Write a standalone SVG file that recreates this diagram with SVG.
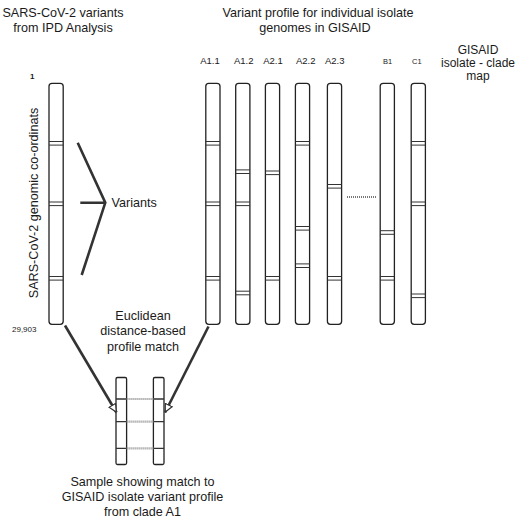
<svg xmlns="http://www.w3.org/2000/svg" width="520" height="519" viewBox="0 0 520 519">
<defs>
<style>
text{font-family:"Liberation Sans",Arial,sans-serif;fill:#1a1a1a;}
.t{font-size:12.6px;}
.g{font-size:12px;}
.m{text-anchor:middle;}
.cl{font-size:9.5px;text-anchor:middle;}
.cs{font-size:7.5px;text-anchor:middle;}
.bar{fill:#fff;stroke:#222;stroke-width:1.3;}
.band{stroke:#333;stroke-width:1;fill:none;}
.conn{stroke:#333;stroke-width:2.6;fill:none;}
.dot{stroke:#8a8a8a;stroke-width:2.2;stroke-dasharray:1 1;fill:none;}
</style>
<marker id="hollow" viewBox="0 0 10 10" refX="10" refY="5" markerWidth="9" markerHeight="9" markerUnits="userSpaceOnUse" orient="auto">
<path d="M0.8,0.8 L9.4,5 L0.8,9.2 z" fill="#fff" stroke="#333" stroke-width="1.3"/>
</marker>
</defs>
<rect width="520" height="519" fill="#fff"/>

<g id="titles">
<text class="t m" x="63" y="16.5">SARS-CoV-2 variants</text>
<text class="t m" x="63" y="31.5">from IPD Analysis</text>
<text class="t m" x="318" y="16.5">Variant profile for individual isolate</text>
<text class="t m" x="315" y="31.5">genomes in GISAID</text>
<text class="g m" x="478" y="54">GISAID</text>
<text class="g m" x="478" y="66.8">isolate - clade</text>
<text class="g m" x="478" y="80">map</text>
<text style="font-size:8px;font-weight:bold" x="30" y="79">1</text>
<text style="font-size:8px" x="12" y="332">29,903</text>
<text class="t m" transform="translate(37.7,203) rotate(-90)" x="0" y="0">SARS-CoV-2 genomic co-ordinats</text>
<text class="t" x="111.5" y="206.5">Variants</text>
<text class="t m" x="143" y="319.5">Euclidean</text>
<text class="t m" x="143" y="335">distance-based</text>
<text class="t m" x="143" y="350.5">profile match</text>
<text class="t m" x="142.5" y="485.5">Sample showing match to</text>
<text class="t m" x="142.5" y="500.5">GISAID isolate variant profile</text>
<text class="t m" x="142.5" y="515.5">from clade A1</text>
</g>

<g id="clade-labels">
<text class="cl" x="210" y="64">A1.1</text>
<text class="cl" x="243.7" y="64">A1.2</text>
<text class="cl" x="273" y="64">A2.1</text>
<text class="cl" x="305.7" y="64">A2.2</text>
<text class="cl" x="334.7" y="64">A2.3</text>
<text class="cs" x="387.7" y="64">B1</text>
<text class="cs" x="416.8" y="64">C1</text>
</g>

<g id="sample-bar">
<rect class="bar" x="49" y="83.3" width="14.2" height="241" rx="3"/>
<path class="band" d="M49,141.5h14.2M49,145.1h14.2M49,202h14.2M49,205.6h14.2M49,276.5h14.2M49,280.1h14.2"/>
</g>

<g id="bar-A1.1">
<rect class="bar" x="205.8" y="83.3" width="14.2" height="241" rx="3"/>
<path class="band" d="M205.8,141.5h14.2M205.8,145.1h14.2M205.8,202h14.2M205.8,205.6h14.2M205.8,276.5h14.2M205.8,280.1h14.2"/>
</g>
<g id="bar-A1.2">
<rect class="bar" x="235.7" y="83.3" width="14.2" height="241" rx="3"/>
<path class="band" d="M235.7,169.9h14.2M235.7,173.5h14.2M235.7,202h14.2M235.7,205.6h14.2M235.7,291.2h14.2M235.7,294.8h14.2"/>
</g>
<g id="bar-A2.1">
<rect class="bar" x="265.4" y="83.3" width="14.2" height="241" rx="3"/>
<path class="band" d="M265.4,171h14.2M265.4,174.6h14.2M265.4,276.5h14.2M265.4,280.1h14.2"/>
</g>
<g id="bar-A2.2">
<rect class="bar" x="295.4" y="83.3" width="14.2" height="241" rx="3"/>
<path class="band" d="M295.4,141.5h14.2M295.4,145.1h14.2M295.4,226.5h14.2M295.4,230.1h14.2M295.4,263.9h14.2M295.4,267.5h14.2"/>
</g>
<g id="bar-A2.3">
<rect class="bar" x="327.4" y="83.3" width="14.2" height="241" rx="3"/>
<path class="band" d="M327.4,184.5h14.2M327.4,188.1h14.2M327.4,276.5h14.2M327.4,280.1h14.2"/>
</g>
<g id="bar-B1">
<rect class="bar" x="380.2" y="83.3" width="14.2" height="241" rx="3"/>
<path class="band" d="M380.2,230.7h14.2M380.2,234.3h14.2M380.2,276.5h14.2M380.2,280.1h14.2"/>
</g>
<g id="bar-C1">
<rect class="bar" x="411.2" y="83.3" width="14.2" height="241" rx="3"/>
<path class="band" d="M411.2,141.5h14.2M411.2,145.1h14.2M411.2,202h14.2M411.2,205.6h14.2M411.2,294h14.2M411.2,297.6h14.2"/>
</g>

<g id="match-sample">
<rect class="bar" x="116" y="377.5" width="10.6" height="87" rx="1.5"/>
<path class="band" d="M116,399h10.6M116,421.7h10.6M116,448.3h10.6" style="stroke-width:1.3"/>
</g>
<g id="match-isolate">
<rect class="bar" x="153.4" y="377.5" width="10.6" height="87" rx="1.5"/>
<path class="band" d="M153.4,399h10.6M153.4,421.7h10.6M153.4,448.3h10.6" style="stroke-width:1.3"/>
</g>

<g id="connectors">
<path class="conn" d="M77.7,142.7L105.3,202.7L81.7,275M80.3,202.7H105.3"/>
<path class="conn" d="M65,325.5L116.5,412.5" marker-end="url(#hollow)"/>
<path class="conn" d="M208.5,326.5L165,412.5" marker-end="url(#hollow)"/>
<path class="dot" d="M126.6,399H153.4M126.6,421.7H153.4M126.6,448.3H153.4"/>
<path class="dot" d="M347,197H377" style="stroke-width:2;stroke:#777"/>
</g>
</svg>
